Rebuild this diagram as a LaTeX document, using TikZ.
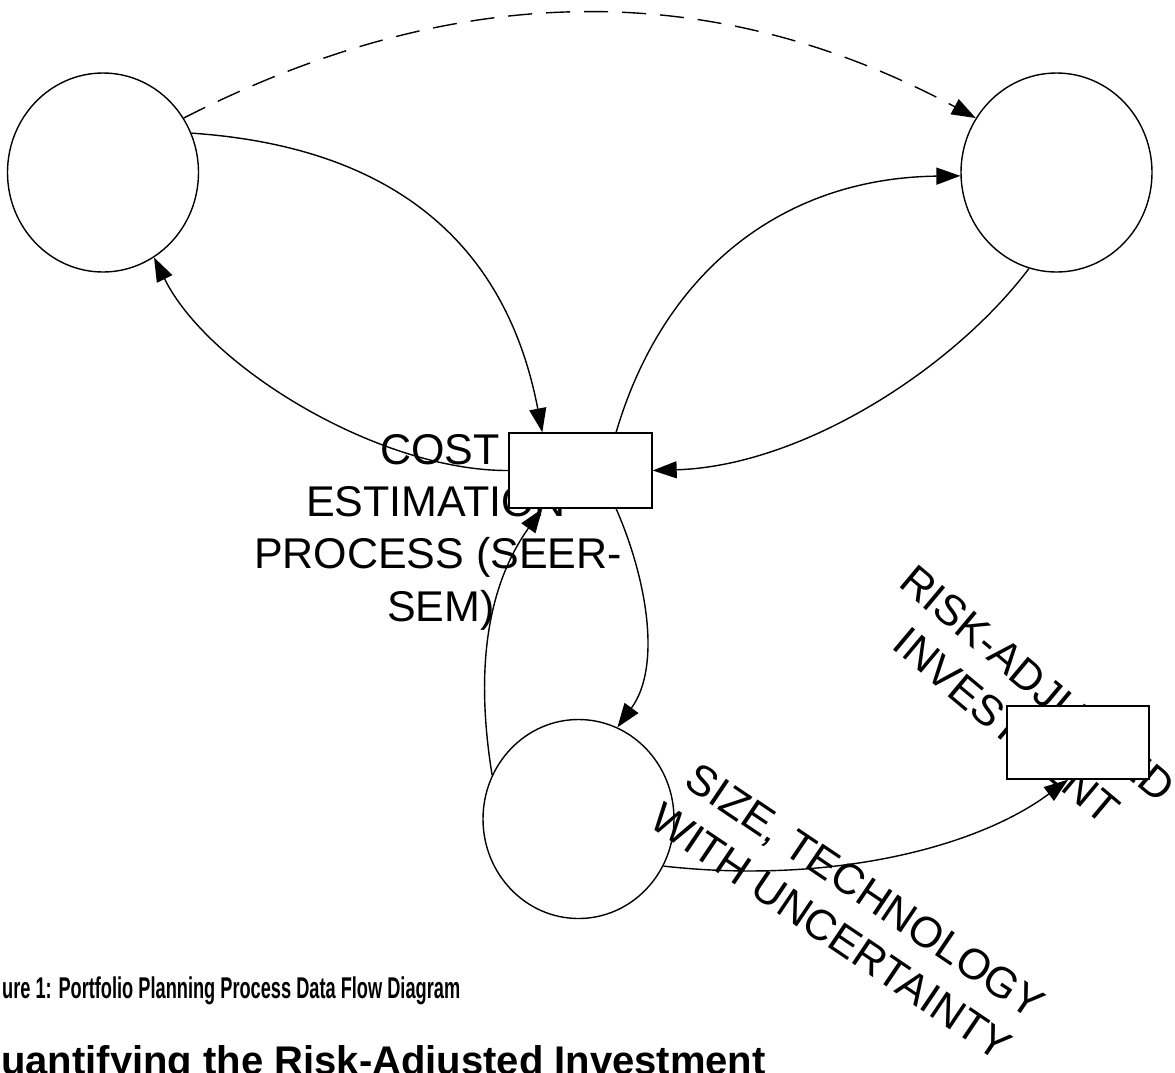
\documentclass[tikz,border=0pt]{standalone}
\usepackage{fontspec}
\usepackage{graphicx}
\setmainfont{Liberation Sans}
\usetikzlibrary{shapes.geometric,arrows.meta}
\tikzset{
  store/.style={ellipse, draw, line width=1.4pt, fill=white, minimum width=191pt, minimum height=199pt, inner sep=0pt},
  procbox/.style={rectangle, draw, line width=1.4pt, fill=white, minimum width=143pt, minimum height=75pt, inner sep=0pt},
  flow/.style={line width=1.4pt, -{Triangle[length=24pt,width=17pt]}},
  dflow/.style={flow, dash pattern=on 24pt off 14pt},
  lbl/.style={font=\fontsize{43}{52}\selectfont, inner sep=0pt, anchor=base},
}
\begin{document}
\begin{tikzpicture}[x=1pt,y=-1pt]
\useasboundingbox (0,0) rectangle (1175,1072);
\clip (0,0) rectangle (1175,1072);
\fill[white] (0,0) rectangle (1175,1072);

% stores (circles)
\node[store] (L) at (103,172.5) {};
\node[store] (R) at (1056.5,172.5) {};
\node[store] (B) at (578.5,819) {};

% labels
\node[lbl] (c1) at (440,464) {COST};
\node[lbl] (c2) at (436,516) {ESTIMATION};
\node[lbl] (c3) at (438,568) {PROCESS (SEER-};
\node[lbl] (c4) at (441,621) {SEM)};

\node[lbl, rotate=-40] (r1) at (1028,695) {RISK-ADJUSTED};
\node[lbl, rotate=-40] (r2) at (997,737) {INVESTMENT};

\node[lbl, rotate=-34] (s1) at (857,903) {SIZE, TECHNOLOGY};
\node[lbl, rotate=-34] (s2) at (823,944) {WITH UNCERTAINTY};

% process boxes
\node[procbox] (P) at (580.5,470.5) {};
\node[procbox, minimum width=142pt, minimum height=73pt] (Q) at (1078,742.5) {};

% flows
\draw[dflow] (L.34) .. controls (458,-22) and (715,-22) .. (R.146);
\draw[flow] (L.24) .. controls (440,150) and (515,290) .. (P.135);
\draw[flow] (P.west) .. controls (379,471) and (208,367) .. (L.-59);
\draw[flow] (P.47) .. controls (663,273) and (781,178) .. (R.182);
\draw[flow] (R.-106) .. controls (953,369) and (802,466) .. (P.east);
\draw[flow] (P.-47) .. controls (646.5,578) and (662,666) .. (B.67);
\draw[flow] (B.153) .. controls (472.6,655) and (493,578) .. (P.-135);
\draw[flow] (B.-29) .. controls (822,884) and (972,851) .. (Q.-105);

% caption and heading
\node[anchor=base west, inner sep=0pt] (cap) at (2,998)
  {\resizebox{458pt}{\height}{\fontsize{30}{34}\selectfont\bfseries ure 1: Portfolio Planning Process Data Flow Diagram}};
\node[anchor=base west, inner sep=0pt] (head) at (1,1074)
  {\fontsize{40}{48}\selectfont\bfseries uantifying the Risk-Adjusted Investment};
\end{tikzpicture}
\end{document}
